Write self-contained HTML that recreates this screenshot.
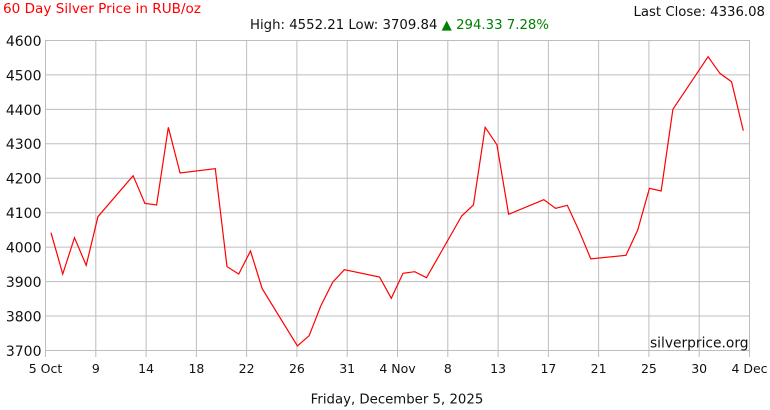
<!DOCTYPE html>
<html><head><meta charset="utf-8"><style>
html,body{margin:0;padding:0;background:#fff;}
svg{display:block;}
text{font-family:"DejaVu Sans","Liberation Sans",sans-serif;}
</style></head><body>
<svg width="770" height="410" viewBox="0 0 770 410" xmlns="http://www.w3.org/2000/svg">
<rect x="0" y="0" width="770" height="410" fill="#fff"/>
<g stroke="#bdbdbd" stroke-width="1" fill="none">
<line x1="45" y1="40.5" x2="749" y2="40.5"/>
<line x1="45" y1="74.9" x2="749" y2="74.9"/>
<line x1="45" y1="109.4" x2="749" y2="109.4"/>
<line x1="45" y1="143.8" x2="749" y2="143.8"/>
<line x1="45" y1="178.3" x2="749" y2="178.3"/>
<line x1="45" y1="212.7" x2="749" y2="212.7"/>
<line x1="45" y1="247.1" x2="749" y2="247.1"/>
<line x1="45" y1="281.6" x2="749" y2="281.6"/>
<line x1="45" y1="316" x2="749" y2="316"/>
<line x1="45" y1="350.5" x2="749" y2="350.5"/>
<line x1="45.5" y1="40" x2="45.5" y2="357"/>
<line x1="95.8" y1="40" x2="95.8" y2="357"/>
<line x1="146.1" y1="40" x2="146.1" y2="357"/>
<line x1="196.4" y1="40" x2="196.4" y2="357"/>
<line x1="246.6" y1="40" x2="246.6" y2="357"/>
<line x1="296.9" y1="40" x2="296.9" y2="357"/>
<line x1="347.2" y1="40" x2="347.2" y2="357"/>
<line x1="397.5" y1="40" x2="397.5" y2="357"/>
<line x1="447.8" y1="40" x2="447.8" y2="357"/>
<line x1="498.1" y1="40" x2="498.1" y2="357"/>
<line x1="548.4" y1="40" x2="548.4" y2="357"/>
<line x1="598.6" y1="40" x2="598.6" y2="357"/>
<line x1="648.9" y1="40" x2="648.9" y2="357"/>
<line x1="699.2" y1="40" x2="699.2" y2="357"/>
<line x1="749.5" y1="40" x2="749.5" y2="357"/>
</g>
<polyline fill="none" stroke="#ff0000" stroke-width="1.2" stroke-linejoin="miter" points="51,232.7 62.73,274 74.47,237.7 86.2,265.3 97.94,216.7 133.14,175.7 144.87,203.3 156.61,205 168.34,127.3 180.07,173 215.28,168.7 227.01,266.7 238.74,274 250.48,251 262.21,288.7 297.41,346 309.15,335.7 320.88,305.7 332.62,282.3 344.35,269.7 379.55,277 391.29,298.3 403.02,273.3 414.75,271.7 426.49,277.7 461.69,216 473.42,205 485.16,127.3 496.89,144.7 508.63,214.3 543.83,199.7 555.56,208.3 567.3,205.3 579.03,230.7 590.76,258.8 625.97,255.3 637.7,230 649.43,188.3 661.17,191 672.9,109.3 708.1,56.7 719.84,73.3 731.57,81.7 743.3,130.7"/>
<g font-size="14" fill="#111" text-anchor="end">
<text x="41.5" y="46">4600</text>
<text x="41.5" y="80.3">4500</text>
<text x="41.5" y="114.8">4400</text>
<text x="41.5" y="149.2">4300</text>
<text x="41.5" y="183.7">4200</text>
<text x="41.5" y="218.1">4100</text>
<text x="41.5" y="252.5">4000</text>
<text x="41.5" y="287">3900</text>
<text x="41.5" y="321.4">3800</text>
<text x="41.5" y="355.9">3700</text>
</g>
<g font-size="12.5" fill="#111" text-anchor="middle">
<text x="45.5" y="373">5 Oct</text>
<text x="95.8" y="373">9</text>
<text x="146.1" y="373">14</text>
<text x="196.4" y="373">18</text>
<text x="246.6" y="373">22</text>
<text x="296.9" y="373">26</text>
<text x="347.2" y="373">31</text>
<text x="397.5" y="373">4 Nov</text>
<text x="447.8" y="373">8</text>
<text x="498.1" y="373">13</text>
<text x="548.4" y="373">17</text>
<text x="598.6" y="373">21</text>
<text x="648.9" y="373">25</text>
<text x="699.2" y="373">30</text>
<text x="749.5" y="373">4 Dec</text>
</g>
<text x="3" y="13" font-size="13" fill="#ff0000" textLength="198" lengthAdjust="spacingAndGlyphs">60 Day Silver Price in RUB/oz</text>
<text x="633.5" y="16" font-size="13" fill="#111" textLength="131.5" lengthAdjust="spacingAndGlyphs">Last Close: 4336.08</text>
<text x="250" y="29" font-size="13" fill="#111" textLength="299" lengthAdjust="spacingAndGlyphs">High: 4552.21 Low: 3709.84 <tspan fill="#008000">▲ 294.33 7.28%</tspan></text>
<text x="650" y="347.5" font-size="14" fill="#111" textLength="98.5" lengthAdjust="spacingAndGlyphs">silverprice.org</text>
<text x="310.7" y="403.5" font-size="13" fill="#111" textLength="172.6" lengthAdjust="spacingAndGlyphs">Friday, December 5, 2025</text>
</svg>
</body></html>
